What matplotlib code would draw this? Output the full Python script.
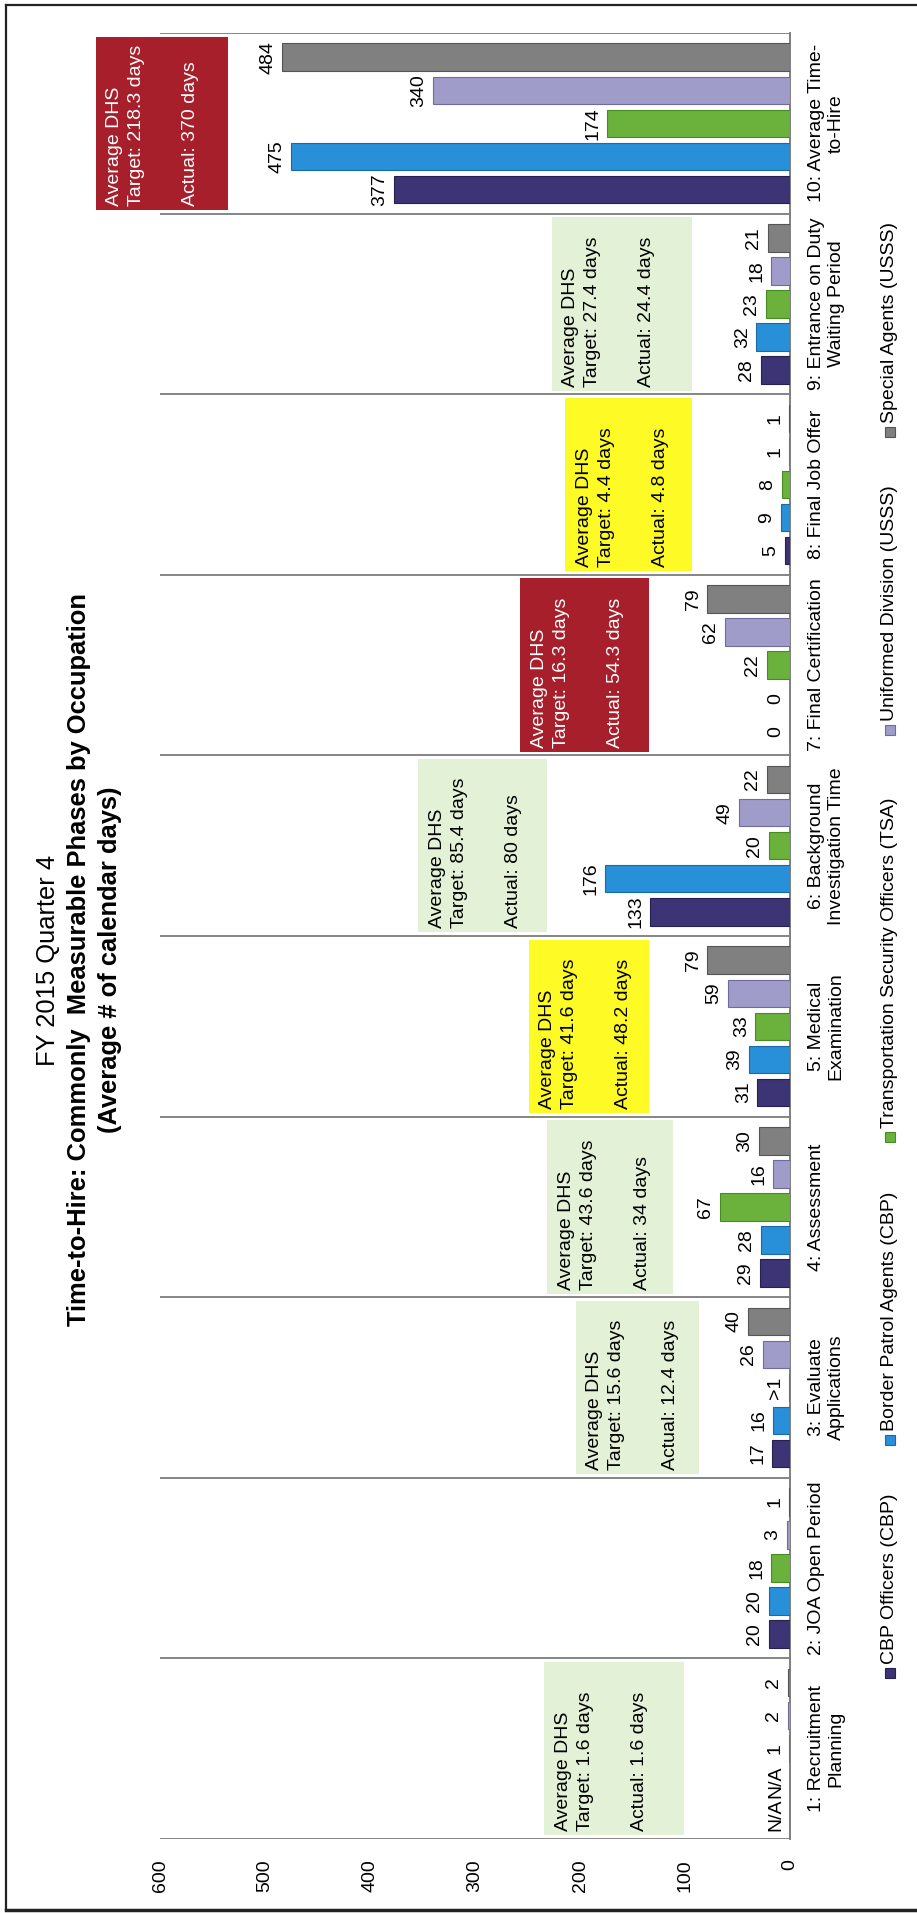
import matplotlib.pyplot as plt
from matplotlib.patches import Rectangle
from matplotlib.lines import Line2D
import numpy as np

plt.rcParams['font.family'] = ['Liberation Sans', 'DejaVu Sans']

# chart data
phases = ['1: Recruitment\nPlanning', '2: JOA Open Period', '3: Evaluate\nApplications',
          '4: Assessment', '5: Medical\nExamination', '6: Background\nInvestigation Time',
          '7: Final Certification', '8: Final Job Offer', '9: Entrance on Duty\nWaiting Period',
          '10: Average Time-\nto-Hire']
series_names = ['CBP Officers (CBP)', 'Border Patrol Agents (CBP)',
                'Transportation Security Officers (TSA)', 'Uniformed Division (USSS)',
                'Special Agents (USSS)']
cbp_officers = [0, 20, 17, 29, 31, 133, 0, 5, 28, 377]
border_patrol = [0, 20, 16, 28, 39, 176, 0, 9, 32, 475]
tsa_officers = [1, 18, 0.5, 67, 33, 20, 22, 8, 23, 174]
uniformed_div = [2, 3, 26, 16, 59, 49, 62, 1, 18, 340]
special_agents = [2, 1, 40, 30, 79, 22, 79, 1, 21, 484]
# (phase, series) labels that differ from the plain value
label_override = {(0, 0): 'N/A', (0, 1): 'N/A', (2, 2): '>1'}

dhs_target = [1.6, None, 15.6, 43.6, 41.6, 85.4, 16.3, 4.4, 27.4, 218.3]
dhs_actual = [1.6, None, 12.4, 34, 48.2, 80, 54.3, 4.8, 24.4, 370]
dhs_status = ['ok', None, 'ok', 'ok', 'warn', 'ok', 'bad', 'warn', 'ok', 'bad']
value_ticks = [0, 100, 200, 300, 400, 500, 600]

# layout / style
colors = ['#3d3476', '#2790d8', '#6ab23c', '#a09cc9', '#808080']
edges = ['#262050', '#1a6aa6', '#4a8a25', '#6f6aa0', '#555555']
box_face = {'ok': '#e3f1d6', 'warn': '#fdfa26', 'bad': '#a61f2b'}
box_text = {'ok': 'black', 'warn': 'black', 'bad': 'white'}
box_span = [(101, 234), None, (87, 204), (111, 231), (134, 249), (231, 354),
            (134, 257), (93, 214), (93, 227), (535, 661)]
W, H = 917, 1913
FS = 14
PX = 72 / 100  # points per pixel

fig = plt.figure(figsize=(W / 100, H / 100), dpi=100)
ax = fig.add_axes([160 / W, (H - 1839) / H, (790 - 160) / W, (1839 - 33) / H])
ax.set_xlim(600, 0)
ax.set_ylim(0, 10)

all_series = [cbp_officers, border_patrol, tsa_officers, uniformed_div, special_agents]
pitch, bar_h = 0.183, 0.152
base = np.arange(len(phases)) + 0.5
for j, vals in enumerate(all_series):
    ys = base + (j - 2) * pitch
    ax.barh(ys, vals, height=bar_h, color=colors[j], edgecolor=edges[j], lw=0.8, zorder=3)
    for i, (v, y) in enumerate(zip(vals, ys)):
        txt = label_override.get((i, j), f'{v:g}')
        ax.annotate(txt, (v, y), xytext=(-14 * PX, 0), textcoords='offset points',
                    rotation=90, ha='center', va='center', fontsize=FS, zorder=5)

# category boundary lines
ax.hlines(np.arange(11), 0, 600, colors='#858585', lw=1.4, zorder=1)

# DHS target / actual boxes
for i, st in enumerate(dhs_status):
    if st is None:
        continue
    lo, hi = box_span[i]
    ax.add_patch(Rectangle((lo, i + 0.02), hi - lo, 0.96, facecolor=box_face[st],
                           edgecolor='none', clip_on=False, zorder=2))
    lines = ['Average DHS', f'Target: {dhs_target[i]:g} days', f'Actual: {dhs_actual[i]:g} days']
    for dx, line in zip([19, 41, 95], lines):
        ax.annotate(line, (hi, i + 0.02), xytext=(dx * PX, 4 * PX), textcoords='offset points',
                    rotation=90, ha='center', va='bottom', fontsize=FS, color=box_text[st],
                    annotation_clip=False, zorder=4)

for s in ['left', 'top', 'bottom']:
    ax.spines[s].set_visible(False)
ax.spines['right'].set_color('#7f7f7f')
ax.spines['right'].set_linewidth(1.4)

ax.set_xticks(value_ticks)
ax.set_xticklabels([str(t) for t in value_ticks], rotation=90, fontsize=FS)
ax.tick_params(axis='x', length=0, pad=20 * PX)

ax.yaxis.set_ticks_position('right')
ax.set_yticks(base)
ax.set_yticklabels(phases, rotation=90, fontsize=FS)
ax.tick_params(axis='y', length=0, pad=18 * PX)
for t in ax.get_yticklabels():
    t.set_multialignment('center')
    t.set_horizontalalignment('left')
    t.set_verticalalignment('center')

# title, three lines; size chosen so the long line spans ~734 px
tc = (H - 960) / H
t1 = fig.text(48 / W, tc, 'FY 2015 Quarter 4', rotation=90, ha='center', va='center')
t2 = fig.text(79 / W, tc, 'Time-to-Hire: Commonly  Measurable Phases by Occupation',
              rotation=90, ha='center', va='center', fontweight='bold')
t3 = fig.text(110 / W, tc, '(Average # of calendar days)', rotation=90, ha='center',
              va='center', fontweight='bold')
t2.set_fontsize(18)
renderer = fig.canvas.get_renderer()
title_fs = 18 * 734 / t2.get_window_extent(renderer).height
for t in (t1, t2, t3):
    t.set_fontsize(title_fs)

# legend (rotated by hand)
leg_x = 890
leg_y = [1673, 1440, 1137, 730, 432]
for j, name in enumerate(series_names):
    y = leg_y[j]
    fig.add_artist(Rectangle(((leg_x - 5) / W, (H - y - 5) / H), 10 / W, 10 / H,
                             transform=fig.transFigure, facecolor=colors[j],
                             edgecolor=edges[j], lw=0.8))
    fig.text(leg_x / W, (H - y + 9) / H, name, rotation=90, ha='center', va='bottom',
             fontsize=FS)

# outer frame (left, top, bottom)
fig.add_artist(Line2D([6 / W, 1], [(H - 5) / H, (H - 5) / H], transform=fig.transFigure,
                      color='#222222', lw=1.6))
fig.add_artist(Line2D([6 / W, 6 / W], [(H - 5) / H, (H - 1910) / H], transform=fig.transFigure,
                      color='#222222', lw=1.6))
fig.add_artist(Line2D([6 / W, 1], [(H - 1910) / H, (H - 1910) / H], transform=fig.transFigure,
                      color='#222222', lw=2.5))

fig.savefig('out.png', dpi=100)
